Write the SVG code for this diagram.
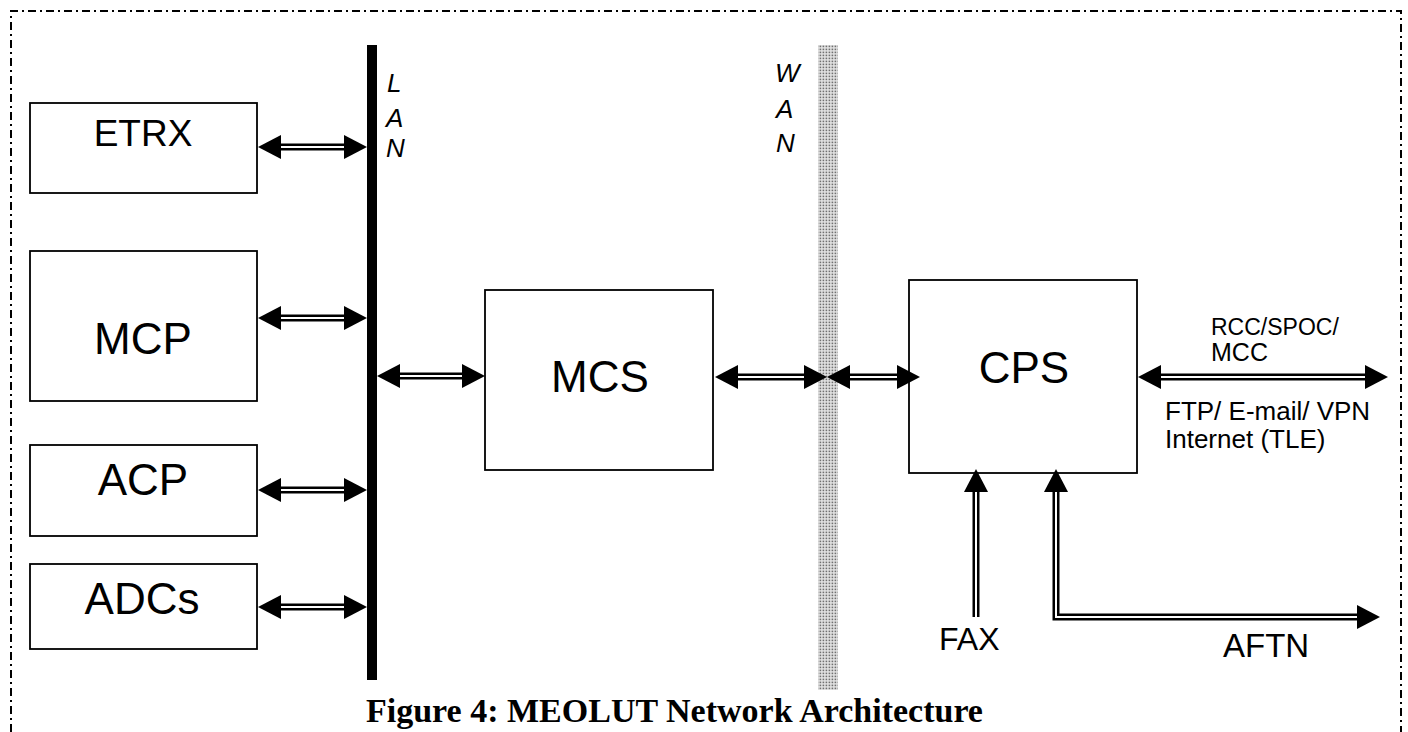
<svg xmlns="http://www.w3.org/2000/svg" width="1408" height="732" viewBox="0 0 1408 732">
<style>
  .box { fill: #fff; stroke: #000; stroke-width: 1.8; }
  .lbl { font-family: "Liberation Sans", Arial, sans-serif; fill: #000; }
  .big { font-size: 44px; text-anchor: middle; }
  .vert { font-size: 26px; font-style: italic; }
  .shaft { fill: none; stroke: #000; stroke-width: 7; stroke-linejoin: miter; }
  .gap { fill: none; stroke: #fff; stroke-width: 2; stroke-linejoin: miter; }
  .arr { marker-start: url(#head); marker-end: url(#head); }
  .arr1 { marker-end: url(#head); }
  .frame { fill: none; stroke: #000; stroke-width: 2; stroke-dasharray: 8 4 2 4; }
</style>
<defs>
  <marker id="head" markerUnits="userSpaceOnUse" markerWidth="23" markerHeight="24" viewBox="0 0 23 24" refX="0" refY="12" orient="auto-start-reverse">
    <path d="M0,0 L23,12 L0,24 z" fill="#000"/>
  </marker>
  <pattern id="dots" width="3" height="3" patternUnits="userSpaceOnUse">
    <rect width="3" height="3" fill="#e4e4e4"/>
    <rect x="0.6" y="0.6" width="1.6" height="1.6" fill="#707070"/>
  </pattern>
</defs>
<rect width="1408" height="732" fill="#fff"/>
<path class="frame" d="M11,732 V11 H1401 V732"/>

<g id="lan">
  <rect x="367" y="45" width="10" height="635" fill="#000"/>
  <text class="lbl vert" x="387" y="92">L</text>
  <text class="lbl vert" x="386" y="127">A</text>
  <text class="lbl vert" x="386" y="157">N</text>
</g>
<g id="wan">
  <rect x="818" y="45" width="20" height="645" fill="url(#dots)"/>
  <text class="lbl vert" x="775" y="82">W</text>
  <text class="lbl vert" x="776" y="118">A</text>
  <text class="lbl vert" x="776" y="152">N</text>
</g>

<g id="etrx">
  <rect class="box" x="30" y="103" width="227" height="90"/>
  <text class="lbl big" x="143" y="146" style="font-size:37px">ETRX</text>
</g>
<g id="mcp">
  <rect class="box" x="30" y="251" width="227" height="150"/>
  <text class="lbl big" x="143" y="354">MCP</text>
</g>
<g id="acp">
  <rect class="box" x="30" y="445" width="227" height="91"/>
  <text class="lbl big" x="143" y="495">ACP</text>
</g>
<g id="adcs">
  <rect class="box" x="30" y="564" width="227" height="85"/>
  <text class="lbl big" x="142" y="614">ADCs</text>
</g>
<g id="mcs">
  <rect class="box" x="485" y="290" width="228" height="180"/>
  <text class="lbl big" x="600" y="392">MCS</text>
</g>
<g id="cps">
  <rect class="box" x="909" y="280" width="228" height="193"/>
  <text class="lbl big" x="1024" y="383">CPS</text>
</g>

<g id="connectors">
  <path class="shaft arr" d="M281,147 H344"/>
  <path class="gap" d="M281,147 H344"/>
  <path class="shaft arr" d="M281,318 H344"/>
  <path class="gap" d="M281,318 H344"/>
  <path class="shaft arr" d="M281,490 H344"/>
  <path class="gap" d="M281,490 H344"/>
  <path class="shaft arr" d="M281,607 H344"/>
  <path class="gap" d="M281,607 H344"/>
  <path class="shaft arr" d="M400,376 H462"/>
  <path class="gap" d="M400,376 H462"/>
  <path class="shaft arr" d="M738,377 H804"/>
  <path class="gap" d="M738,377 H804"/>
  <path class="shaft arr" d="M850,377 H897"/>
  <path class="gap" d="M850,377 H897"/>
  <path class="shaft arr" d="M1161,377 H1365"/>
  <path class="gap" d="M1161,377 H1365"/>
  <path class="shaft arr1" d="M976,617 V492"/>
  <path class="gap" d="M976,617 V492"/>
  <path class="shaft arr" d="M1056,492 V617 H1357"/>
  <path class="gap" d="M1056,492 V617 H1357"/>
</g>

<g id="labels">
  <text class="lbl" x="1211" y="335" font-size="23">RCC/SPOC/</text>
  <text class="lbl" x="1211" y="361" font-size="25">MCC</text>
  <text class="lbl" x="1165" y="420" font-size="26">FTP/ E-mail/ VPN</text>
  <text class="lbl" x="1165" y="448" font-size="26">Internet (TLE)</text>
  <text class="lbl" x="939" y="650" font-size="32">FAX</text>
  <text class="lbl" x="1223" y="657" font-size="33">AFTN</text>
</g>

<text id="caption" x="366" y="722" font-family="'Liberation Serif', 'Times New Roman', serif" font-weight="bold" font-size="34" fill="#000">Figure 4: MEOLUT Network Architecture</text>
</svg>
